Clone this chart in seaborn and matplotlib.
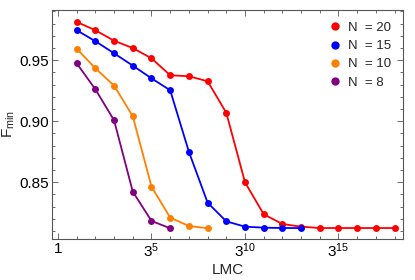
import matplotlib
matplotlib.use("Agg")
import matplotlib.pyplot as plt
import matplotlib.ticker as mticker
from matplotlib.lines import Line2D
import seaborn as sns
import numpy as np
import pandas as pd

# exponents k of LMC = 3**k
exp_n20 = list(range(1, 19))
exp_n15 = list(range(1, 14))
exp_n10 = list(range(1, 9))
exp_n8 = list(range(1, 7))

f_n20 = [0.9814, 0.9746, 0.9660, 0.9600, 0.9516, 0.9377, 0.9369, 0.9328, 0.9070,
         0.8500, 0.8238, 0.8158, 0.8136, 0.8125, 0.8125, 0.8125, 0.8125, 0.8125]
f_n15 = [0.9746, 0.9656, 0.9557, 0.9456, 0.9352, 0.9254, 0.8750, 0.8333, 0.8180,
         0.8136, 0.8128, 0.8125, 0.8125]
f_n10 = [0.9595, 0.9434, 0.9292, 0.9041, 0.8464, 0.8210, 0.8142, 0.8123]
f_n8 = [0.9475, 0.9262, 0.9008, 0.8423, 0.8183, 0.8123]

labels = ["N  = 20", "N  = 15", "N  = 10", "N  = 8"]
colors = ["#ff0000", "#0000ff", "#ff8000", "#800080"]


def build_frame():
    rows = []
    for lab, ks, fs in zip(labels, [exp_n20, exp_n15, exp_n10, exp_n8],
                           [f_n20, f_n15, f_n10, f_n8]):
        for k, f in zip(ks, fs):
            rows.append({"LMC": 3.0 ** k, "F": f, "N": lab})
    return pd.DataFrame(rows)


def plot(df):
    sns.set_style("ticks")
    plt.rcParams["font.family"] = ["Liberation Sans", "DejaVu Sans"]
    fig = plt.figure(figsize=(4.15, 2.8), dpi=100)
    ax = fig.add_axes([0.1253, 0.1464, 0.8458, 0.8179])

    for lab, col in zip(labels, colors):
        sub = df[df["N"] == lab]
        sns.lineplot(data=sub, x="LMC", y="F", ax=ax, color=col, legend=False,
                     marker="o", markersize=5, markeredgewidth=0, linewidth=1.3)

    ax.set_xscale("log", base=3)
    ax.set_xlim(3 ** -0.32, 3 ** 18.45)
    ax.set_ylim(0.8035, 0.9912)

    ax.xaxis.set_major_locator(mticker.FixedLocator([1, 3 ** 5, 3 ** 10, 3 ** 15]))
    ax.xaxis.set_major_formatter(mticker.FixedFormatter(
        ["1", "$\\mathregular{3^{5}}$", "$\\mathregular{3^{10}}$", "$\\mathregular{3^{15}}$"]))
    ax.xaxis.set_minor_locator(mticker.FixedLocator([3.0 ** k for k in range(0, 19)]))
    ax.xaxis.set_minor_formatter(mticker.NullFormatter())

    ax.yaxis.set_major_locator(mticker.FixedLocator([0.85, 0.90, 0.95]))
    ax.yaxis.set_major_formatter(mticker.FormatStrFormatter("%.2f"))
    ax.yaxis.set_minor_locator(mticker.MultipleLocator(0.01))

    ax.tick_params(which="both", direction="in", top=True, right=True,
                   colors="#555555", labelcolor="black", labelsize=11, width=0.6, pad=2)
    ax.tick_params(which="major", length=4)
    ax.tick_params(which="minor", length=2)
    for sp in ax.spines.values():
        sp.set_color("#555555")
        sp.set_linewidth(0.8)

    ax.set_xlabel("LMC", fontsize=11, labelpad=2)
    ax.set_ylabel("$\\mathregular{F_{min}}$", fontsize=11, labelpad=2)

    handles = [Line2D([], [], linestyle="none", marker="o", markersize=6,
                      markeredgewidth=0, color=c) for c in colors]
    ax.legend(handles, labels, loc="upper right", frameon=False, fontsize=9.5,
              handlelength=0.8, handletextpad=0.6, labelspacing=0.45,
              borderaxespad=0.5)

    fig.savefig("out.png", dpi=100)


if __name__ == "__main__":
    plot(build_frame())
